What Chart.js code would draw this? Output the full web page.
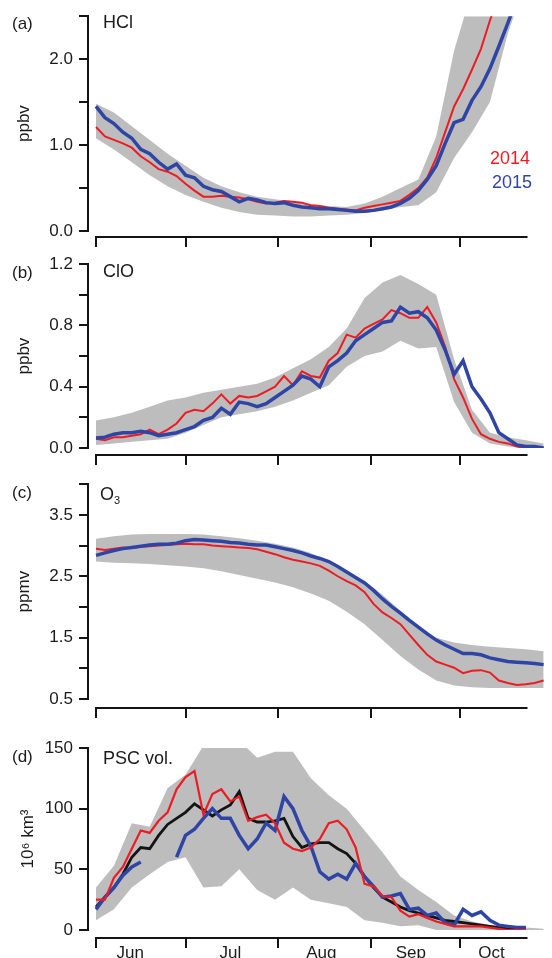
<!DOCTYPE html>
<html>
<head>
<meta charset="utf-8">
<script src="https://cdn.jsdelivr.net/npm/chart.js@4.4.1/dist/chart.umd.min.js"></script>
<style>
  body { margin: 0; background: #fff; }
  #page { position: relative; width: 552px; height: 958px; overflow: hidden;
          font-family: "Liberation Sans", Arial, sans-serif; color: #1a1a1a; }
  canvas { position: absolute; left: 0; }
  .lab { position: absolute; font-size: 17px; line-height: 20px; white-space: nowrap; }
  .big { font-size: 18px; }
  .lab sub { font-size: 11px; vertical-align: -4px; line-height: 0; }
</style>
</head>
<body>
<div id="page">
  <canvas id="cA" width="552" height="248" style="top:0px"></canvas>
  <canvas id="cB" width="552" height="220" style="top:248px"></canvas>
  <canvas id="cC" width="552" height="257" style="top:468px"></canvas>
  <canvas id="cD" width="552" height="233" style="top:725px"></canvas>

  <div class="lab" style="left:12px;top:14px">(a)</div>
  <div class="lab big" style="left:103px;top:12px">HCl</div>
  <div class="lab big" style="left:490px;top:148px;color:#ec1c24">2014</div>
  <div class="lab big" style="left:492px;top:172px;color:#2f45a6">2015</div>

  <div class="lab" style="left:12px;top:263px">(b)</div>
  <div class="lab big" style="left:103px;top:261px">ClO</div>

  <div class="lab" style="left:12px;top:483px">(c)</div>
  <div class="lab big" style="left:100px;top:484px">O<sub>3</sub></div>

  <div class="lab" style="left:12px;top:747px">(d)</div>
  <div class="lab big" style="left:103px;top:748px">PSC vol.</div>
</div>
<script>
// days since 1 June
var lineDays = [0,3,6,9,12,15,18,21,24,27,30,33,36,39,42,45,48,51,54,57,60,63,66,69,72,75,78,81,84,87,90,93,96,99,102,105,108,111,114,117,120,123,126,129,132,135,138,141,144,147,150];
var bandDays = [0,6,12,18,24,30,36,42,48,54,60,66,72,78,84,90,96,102,108,114,120,126,132,138,144,150];

var monthStarts = [0, 30, 61, 92, 122];
var monthNames = ["Jun", "Jul", "Aug", "Sep", "Oct"];
var monthLabelDays = [11.5, 45, 75.5, 105.5, 132.5];
var axisEndDay = 144.6;

// (a) HCl, ppbv
var hcl2014 = [1.21,1.10,1.06,1.02,0.97,0.87,0.80,0.72,0.69,0.64,0.55,0.47,0.40,0.40,0.41,0.40,0.39,0.37,0.34,0.32,0.33,0.35,0.34,0.33,0.30,0.29,0.27,0.26,0.25,0.24,0.27,0.29,0.31,0.33,0.35,0.42,0.50,0.62,0.85,1.15,1.45,1.65,1.88,2.12,2.45,2.75,3.00];
var hcl2015 = [1.45,1.32,1.25,1.15,1.08,0.95,0.90,0.80,0.72,0.78,0.65,0.62,0.52,0.48,0.46,0.40,0.34,0.38,0.36,0.33,0.32,0.33,0.30,0.28,0.27,0.26,0.26,0.25,0.24,0.23,0.23,0.24,0.26,0.28,0.32,0.38,0.47,0.60,0.76,1.02,1.26,1.30,1.52,1.68,1.89,2.15,2.42,2.70];
var hclHi = [1.48,1.38,1.22,1.06,0.90,0.76,0.62,0.52,0.45,0.40,0.37,0.34,0.31,0.29,0.28,0.32,0.40,0.50,0.60,1.10,2.10,2.80,3.00,3.00,3.00,3.00];
var hclLo = [1.08,0.95,0.80,0.65,0.52,0.42,0.34,0.27,0.22,0.19,0.18,0.17,0.17,0.18,0.19,0.21,0.24,0.28,0.30,0.45,0.85,1.15,1.50,2.30,2.90,3.00];
var hclTicks = [0, 0.5, 1.0, 1.5, 2.0, 2.5];
var hclLabels = ["0.0", "", "1.0", "", "2.0", ""];

// (b) ClO, ppbv
var clo2014 = [0.06,0.05,0.07,0.07,0.08,0.09,0.12,0.09,0.12,0.16,0.23,0.25,0.24,0.29,0.35,0.29,0.34,0.33,0.34,0.37,0.40,0.47,0.41,0.50,0.47,0.46,0.57,0.62,0.74,0.72,0.78,0.81,0.84,0.90,0.88,0.85,0.85,0.92,0.82,0.66,0.45,0.33,0.19,0.09,0.06,0.04,0.03,0.01,0.0,0.0,0.0];
var clo2015 = [0.065,0.07,0.09,0.10,0.10,0.11,0.10,0.08,0.09,0.10,0.12,0.14,0.18,0.20,0.26,0.22,0.30,0.29,0.27,0.29,0.33,0.37,0.41,0.47,0.45,0.40,0.53,0.57,0.62,0.70,0.74,0.78,0.82,0.83,0.92,0.88,0.89,0.85,0.77,0.64,0.48,0.57,0.40,0.32,0.23,0.10,0.06,0.02,0.01,0.01,0.0];
var cloHi = [0.18,0.20,0.23,0.27,0.31,0.33,0.36,0.38,0.40,0.42,0.46,0.52,0.58,0.66,0.78,0.98,1.08,1.13,1.07,1.00,0.58,0.25,0.10,0.07,0.05,0.03];
var cloLo = [0.02,0.03,0.04,0.05,0.06,0.10,0.15,0.20,0.22,0.24,0.27,0.31,0.36,0.41,0.53,0.60,0.63,0.70,0.65,0.66,0.30,0.10,0.03,0.01,0.0,0.0];
var cloTicks = [0, 0.2, 0.4, 0.6, 0.8, 1.0, 1.2];
var cloLabels = ["0.0", "", "0.4", "", "0.8", "", "1.2"];

// (c) O3, ppmv
var o32014 = [2.95,2.93,2.95,2.97,2.96,2.98,2.99,3.00,3.01,3.02,3.03,3.02,3.02,3.00,2.99,2.98,2.97,2.96,2.94,2.90,2.86,2.81,2.77,2.74,2.71,2.67,2.59,2.50,2.42,2.35,2.24,2.05,1.91,1.82,1.72,1.55,1.38,1.22,1.11,1.06,1.01,0.92,0.96,0.97,0.93,0.80,0.76,0.73,0.74,0.76,0.80];
var o32015 = [2.84,2.88,2.92,2.95,2.97,2.99,3.01,3.02,3.02,3.04,3.08,3.10,3.09,3.08,3.07,3.05,3.04,3.02,3.01,3.01,2.98,2.95,2.92,2.88,2.83,2.79,2.74,2.66,2.57,2.48,2.39,2.27,2.13,2.01,1.90,1.78,1.67,1.56,1.46,1.38,1.31,1.24,1.24,1.22,1.17,1.14,1.11,1.10,1.09,1.08,1.06];
var o3Hi = [3.11,3.15,3.18,3.19,3.19,3.19,3.18,3.15,3.12,3.08,3.03,2.97,2.88,2.74,2.58,2.42,2.20,1.94,1.70,1.50,1.42,1.38,1.35,1.33,1.31,1.28];
var o3Lo = [2.74,2.72,2.71,2.70,2.68,2.66,2.63,2.58,2.52,2.46,2.40,2.32,2.22,2.10,1.92,1.72,1.46,1.20,0.98,0.80,0.72,0.69,0.68,0.68,0.68,0.68];
var o3Ticks = [0.5, 1.0, 1.5, 2.0, 2.5, 3.0, 3.5, 4.0];
var o3Labels = ["0.5", "", "1.5", "", "2.5", "", "3.5", ""];

// (d) PSC volume, 10^6 km^3
var psc2014 = [25,25,43,52,67,82,80,90,97,116,126,131,95,112,116,106,110,90,93,95,88,72,67,65,68,75,88,90,83,68,38,36,28,27,16,11,13,10,7,5,3,3,3,3,2,1,0,0,0];
var psc2015 = [17,27,35,45,52,56,null,null,null,60,78,83,92,100,92,92,78,67,75,88,82,110,100,82,69,48,42,46,42,55,44,36,27,28,30,17,18,12,14,6,4,17,12,15,8,4,3,2,2];
var pscMean = [19,27,35,46,60,68,67,78,87,92,97,104,99,94,99,103,114,92,89,89,90,92,77,68,71,72,72,67,63,55,44,35,27,23,19,16,14,12,10,8,7,6,5,4,3,2,2,2,2];
var pscHi = [35,53,88,85,117,128,152,150,156,142,147,147,125,111,100,82,64,44,33,23,12,7,4,3,2,1];
var pscLo = [8,17,35,46,56,60,35,36,50,33,25,35,25,22,19,8,6,3,4,0,0,0,0,0,0,0];
var pscTicks = [0, 50, 100, 150];
var pscLabels = ["0", "50", "100", "150"];

var red = "#ec1c24";
var blue = "#2f45a6";
var gray = "#bdbdbd";
var ink = "#141414";

Chart.defaults.font.family = '"Liberation Sans", Arial, sans-serif';
Chart.defaults.color = "#1a1a1a";

// x axis sits a few px below the plot, from 1 Jun to late Oct
var offsetAxis = {
  id: "offsetAxis",
  afterDraw: function(chart, args, o) {
    var ctx = chart.ctx;
    var xs = chart.scales.x;
    var yLine = chart.chartArea.bottom + o.gap;
    ctx.save();
    ctx.strokeStyle = ink;
    ctx.lineWidth = 2;
    ctx.beginPath();
    ctx.moveTo(xs.getPixelForValue(monthStarts[0]) - 1, yLine);
    ctx.lineTo(xs.getPixelForValue(axisEndDay), yLine);
    for (var i = 0; i < monthStarts.length; i++) {
      var px = Math.round(xs.getPixelForValue(monthStarts[i]));
      ctx.moveTo(px, yLine);
      ctx.lineTo(px, yLine + 10);
    }
    ctx.stroke();
    ctx.restore();
  }
};

function pts(days, vals) {
  var out = [];
  for (var i = 0; i < vals.length; i++) out.push({ x: days[i], y: vals[i] });
  return out;
}

function lineSet(vals, color, width) {
  return { data: pts(lineDays, vals), borderColor: color, borderWidth: width,
           pointRadius: 0, fill: false, spanGaps: false };
}

function bandSets(hi, lo) {
  return [
    { data: pts(bandDays, hi), borderColor: "rgba(0,0,0,0)", borderWidth: 0,
      backgroundColor: gray, pointRadius: 0, fill: "+1" },
    { data: pts(bandDays, lo), borderColor: "rgba(0,0,0,0)", borderWidth: 0,
      pointRadius: 0, fill: false }
  ];
}

function makePanel(id, p) {
  return new Chart(document.getElementById(id), {
    type: "line",
    data: { datasets: p.datasets },
    options: {
      responsive: false,
      animation: false,
      devicePixelRatio: 1,
      layout: { padding: { top: p.padTop, left: 0, right: 0, bottom: 0 } },
      elements: { line: { tension: 0 } },
      plugins: {
        legend: { display: false },
        tooltip: { enabled: false },
        offsetAxis: { gap: p.gap }
      },
      scales: {
        x: {
          type: "linear", min: -2.68, max: 152.8,
          grid: { display: false },
          border: { display: false },
          ticks: {
            display: !!p.months, autoSkip: false, maxRotation: 0, padding: 5,
            font: { size: 17 }, color: "#1a1a1a",
            callback: function(v, i) { return monthNames[i]; }
          },
          afterBuildTicks: function(s) {
            s.ticks = monthLabelDays.map(function(v) { return { value: v }; });
          },
          afterFit: function(s) { s.height = p.xHeight; }
        },
        y: {
          min: p.yTicks[0], max: p.yTicks[p.yTicks.length - 1],
          grid: { display: true, drawOnChartArea: false, drawTicks: true,
                  tickLength: 9, lineWidth: 2, color: ink },
          border: { display: true, width: 2, color: ink },
          ticks: {
            autoSkip: false, padding: 6, font: { size: 17 }, color: "#1a1a1a",
            callback: function(v, i) { return p.yLabels[i]; }
          },
          afterBuildTicks: function(s) {
            s.ticks = p.yTicks.map(function(v) { return { value: v }; });
          },
          afterFit: function(s) { s.width = 88; },
          title: { display: true, text: p.yTitle, font: { size: 17 }, color: "#1a1a1a",
                   padding: { top: p.titlePad, bottom: 0 } }
        }
      }
    },
    plugins: [offsetAxis]
  });
}

makePanel("cA", {
  padTop: 14, xHeight: 17, gap: 6, yTitle: "ppbv", titlePad: 14,
  yTicks: hclTicks, yLabels: hclLabels,
  datasets: [lineSet(hcl2015, blue, 3.5), lineSet(hcl2014, red, 2)].concat(bandSets(hclHi, hclLo))
});

makePanel("cB", {
  padTop: 14, xHeight: 20, gap: 7, yTitle: "ppbv", titlePad: 14,
  yTicks: cloTicks, yLabels: cloLabels,
  datasets: [lineSet(clo2015, blue, 3.5), lineSet(clo2014, red, 2)].concat(bandSets(cloHi, cloLo))
});

makePanel("cC", {
  padTop: 14, xHeight: 26, gap: 9, yTitle: "ppmv", titlePad: 14,
  yTicks: o3Ticks, yLabels: o3Labels,
  datasets: [lineSet(o32015, blue, 3.5), lineSet(o32014, red, 2)].concat(bandSets(o3Hi, o3Lo))
});

makePanel("cD", {
  padTop: 23, xHeight: 28, gap: 8, yTitle: "10\u2076 km\u00b3", titlePad: 18, months: true,
  yTicks: pscTicks, yLabels: pscLabels,
  datasets: [lineSet(psc2014, red, 2.2), lineSet(psc2015, blue, 3.5), lineSet(pscMean, ink, 2.8)].concat(bandSets(pscHi, pscLo))
});
</script>
</body>
</html>
